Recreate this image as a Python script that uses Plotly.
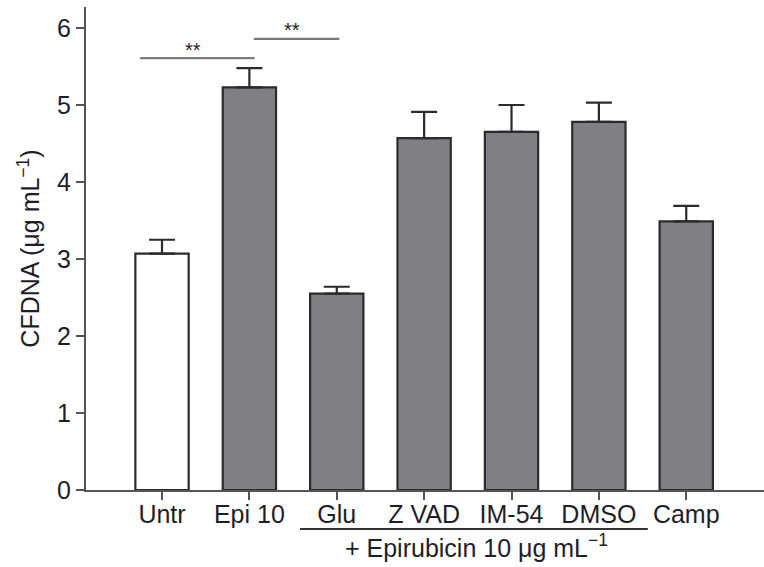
import plotly.graph_objects as go

# CFDNA release per treatment (mean + SEM)
categories = ["Untr", "Epi 10", "Glu", "Z VAD", "IM-54", "DMSO", "Camp"]
means = [3.07, 5.23, 2.55, 4.57, 4.65, 4.78, 3.49]
sems = [0.18, 0.25, 0.09, 0.34, 0.35, 0.25, 0.20]
fills = ["#ffffff", "#808084", "#808084", "#808084", "#808084", "#808084", "#808084"]
y_ticks = [0, 1, 2, 3, 4, 5, 6]

# significance comparisons: (start, end, height)
sig_pairs = [(-0.25, 1.06, 5.61), (1.05, 2.03, 5.86)]
sig_label = "**"

FONT = "Liberation Sans, Arial, Helvetica, sans-serif"
TXT = "#1e1e28"
FS = 25

fig = go.Figure()
fig.add_trace(go.Bar(
    x=categories, y=means,
    marker=dict(color=fills, line=dict(color="#2b2b2b", width=2.2)),
    error_y=dict(type="data", array=sems, arrayminus=[0] * len(sems),
                 symmetric=False, color="#2b2b2b", thickness=2.2, width=13),
    width=0.61,
))

for x0, x1, h in sig_pairs:
    fig.add_shape(type="line", xref="x", yref="y", x0=x0, x1=x1, y0=h, y1=h,
                  line=dict(color="#7a7a7a", width=2.2))
    fig.add_annotation(x=(x0 + x1) / 2 - 0.05, y=h - 0.06, xref="x", yref="y",
                       text=sig_label, showarrow=False, yanchor="bottom",
                       font=dict(family=FONT, size=20, color=TXT))

# bracket marking the epirubicin-treated groups
fig.add_shape(type="line", xref="x", yref="paper", x0=1.58, x1=5.56,
              y0=-0.081, y1=-0.081, line=dict(color="#333", width=2))
fig.add_annotation(x=3.6, y=-0.116, xref="x", yref="paper",
                   text="+ Epirubicin 10 μg mL<sup>−1</sup>", showarrow=False,
                   yanchor="middle", font=dict(family=FONT, size=FS, color=TXT))

fig.update_layout(
    width=764, height=567,
    margin=dict(l=86, r=0, t=7, b=77),
    paper_bgcolor="white", plot_bgcolor="white",
    showlegend=False,
    font=dict(family=FONT, size=FS, color=TXT),
    xaxis=dict(range=[-0.87, 6.89], showline=True, linecolor="#555", linewidth=2,
               ticks="outside", ticklen=8, tickwidth=2, tickcolor="#555",
               ticklabelstandoff=-7,
               showgrid=False, zeroline=False, tickfont=dict(size=FS)),
    yaxis=dict(range=[0, 6.273], tickvals=y_ticks, showline=True, linecolor="#555",
               linewidth=2, ticks="outside", ticklen=8, tickwidth=2, tickcolor="#555",
               showgrid=False, zeroline=False, tickfont=dict(size=FS),
               title=dict(text="CFDNA (μg mL<sup>−1</sup>)", standoff=10,
                          font=dict(size=FS))),
)

fig.write_html("out.html")
